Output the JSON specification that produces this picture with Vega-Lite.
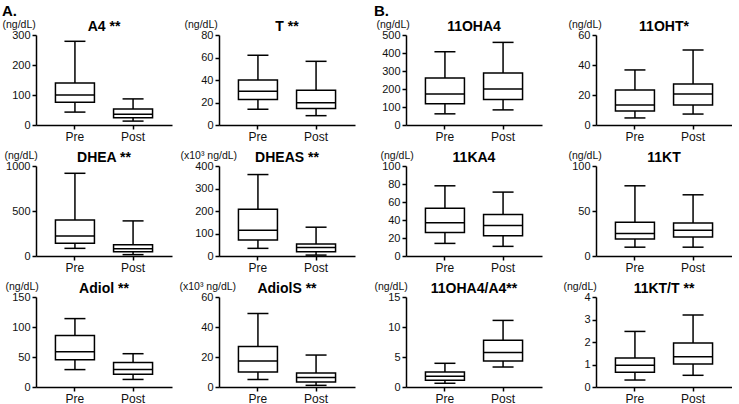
{
"$schema":"https://vega.github.io/schema/vega-lite/v6.json",
"background":"white",
"padding":{"left":2,"top":4,"right":0,"bottom":0},
"data":{"values":[
{"panel":"A4","group":"Pre","lower":43,"q1":76,"median":100,"q3":140,"upper":279},
{"panel":"A4","group":"Post","lower":13,"q1":24,"median":36,"q3":53,"upper":87},
{"panel":"T","group":"Pre","lower":14,"q1":22.7,"median":30,"q3":40,"upper":62},
{"panel":"T","group":"Post","lower":8.3,"q1":14.7,"median":19.8,"q3":31,"upper":56.6},
{"panel":"DHEA","group":"Pre","lower":85,"q1":143,"median":221,"q3":401,"upper":919},
{"panel":"DHEA","group":"Post","lower":15,"q1":48,"median":81,"q3":125,"upper":390},
{"panel":"DHEAS","group":"Pre","lower":34,"q1":71,"median":115,"q3":208,"upper":362},
{"panel":"DHEAS","group":"Post","lower":4,"q1":19,"median":38,"q3":53,"upper":128},
{"panel":"Adiol","group":"Pre","lower":29,"q1":45.6,"median":58.6,"q3":86,"upper":114},
{"panel":"Adiol","group":"Post","lower":12.6,"q1":21.4,"median":29,"q3":40.7,"upper":55.5},
{"panel":"AdiolS","group":"Pre","lower":5,"q1":10,"median":17.4,"q3":27,"upper":49},
{"panel":"AdiolS","group":"Post","lower":1.1,"q1":3.4,"median":6.3,"q3":9.4,"upper":21.3},
{"panel":"11OHA4","group":"Pre","lower":62,"q1":118,"median":172,"q3":261,"upper":407},
{"panel":"11OHA4","group":"Post","lower":84,"q1":142,"median":200,"q3":289,"upper":459},
{"panel":"11OHT","group":"Pre","lower":4.7,"q1":9.3,"median":13.3,"q3":23.3,"upper":36.7},
{"panel":"11OHT","group":"Post","lower":7.3,"q1":13.3,"median":20.7,"q3":27.3,"upper":50},
{"panel":"11KA4","group":"Pre","lower":14,"q1":26,"median":37,"q3":53,"upper":78},
{"panel":"11KA4","group":"Post","lower":10.7,"q1":22.4,"median":34,"q3":46,"upper":71},
{"panel":"11KT","group":"Pre","lower":9.8,"q1":18.8,"median":25,"q3":37.6,"upper":78},
{"panel":"11KT","group":"Post","lower":9.8,"q1":21,"median":28.6,"q3":36.8,"upper":68},
{"panel":"11OHA4/A4","group":"Pre","lower":0.62,"q1":1.13,"median":1.8,"q3":2.5,"upper":3.95},
{"panel":"11OHA4/A4","group":"Post","lower":3.33,"q1":4.35,"median":5.75,"q3":7.8,"upper":11.1},
{"panel":"11KT/T","group":"Pre","lower":0.31,"q1":0.66,"median":0.97,"q3":1.29,"upper":2.47},
{"panel":"11KT/T","group":"Post","lower":0.52,"q1":1.02,"median":1.35,"q3":1.96,"upper":3.2}
]},
"spacing":19,
"hconcat":[
{"title":{"text":"A.","anchor":"start","fontSize":15,"fontWeight":"bold","offset":0,"frame":"bounds"},
 "columns":2,"bounds":"flush","spacing":{"row":41,"column":47},
 "concat":[
  {"width":136,"height":90,"title":"A4 **","transform":[{"filter":"datum.panel === 'A4'"}],
   "encoding":{"x":{"field":"group","type":"nominal","sort":["Pre","Post"],"scale":{"paddingInner":0,"paddingOuter":0.17},"axis":{"title":null}}},
   "layer":[
    {"mark":{"type":"rule","color":"black","strokeWidth":1.5},"encoding":{"y":{"field":"lower","type":"quantitative","scale":{"domain":[0,300],"nice":false},"axis":{"values":[0,100,200,300],"title":"(ng/dL)","titleX":-34}},"y2":{"field":"upper"}}},
    {"mark":{"type":"bar","fill":"white","stroke":"black","strokeWidth":1.5,"size":39,"opacity":1},"encoding":{"y":{"field":"q1","type":"quantitative"},"y2":{"field":"q3"}}},
    {"mark":{"type":"tick","color":"black","thickness":1.5,"size":39,"opacity":1},"encoding":{"y":{"field":"median","type":"quantitative"}}},
    {"mark":{"type":"tick","color":"black","thickness":1.5,"size":21,"opacity":1},"encoding":{"y":{"field":"lower","type":"quantitative"}}},
    {"mark":{"type":"tick","color":"black","thickness":1.5,"size":21,"opacity":1},"encoding":{"y":{"field":"upper","type":"quantitative"}}}
   ]},
  {"width":136,"height":90,"title":"T **","transform":[{"filter":"datum.panel === 'T'"}],
   "encoding":{"x":{"field":"group","type":"nominal","sort":["Pre","Post"],"scale":{"paddingInner":0,"paddingOuter":0.17},"axis":{"title":null}}},
   "layer":[
    {"mark":{"type":"rule","color":"black","strokeWidth":1.5},"encoding":{"y":{"field":"lower","type":"quantitative","scale":{"domain":[0,80],"nice":false},"axis":{"values":[0,20,40,60,80],"title":"(ng/dL)","titleX":-35}},"y2":{"field":"upper"}}},
    {"mark":{"type":"bar","fill":"white","stroke":"black","strokeWidth":1.5,"size":39,"opacity":1},"encoding":{"y":{"field":"q1","type":"quantitative"},"y2":{"field":"q3"}}},
    {"mark":{"type":"tick","color":"black","thickness":1.5,"size":39,"opacity":1},"encoding":{"y":{"field":"median","type":"quantitative"}}},
    {"mark":{"type":"tick","color":"black","thickness":1.5,"size":21,"opacity":1},"encoding":{"y":{"field":"lower","type":"quantitative"}}},
    {"mark":{"type":"tick","color":"black","thickness":1.5,"size":21,"opacity":1},"encoding":{"y":{"field":"upper","type":"quantitative"}}}
   ]},
  {"width":136,"height":90,"title":"DHEA **","transform":[{"filter":"datum.panel === 'DHEA'"}],
   "encoding":{"x":{"field":"group","type":"nominal","sort":["Pre","Post"],"scale":{"paddingInner":0,"paddingOuter":0.17},"axis":{"title":null}}},
   "layer":[
    {"mark":{"type":"rule","color":"black","strokeWidth":1.5},"encoding":{"y":{"field":"lower","type":"quantitative","scale":{"domain":[0,1000],"nice":false},"axis":{"values":[0,500,1000],"title":"(ng/dL)","titleX":-32}},"y2":{"field":"upper"}}},
    {"mark":{"type":"bar","fill":"white","stroke":"black","strokeWidth":1.5,"size":39,"opacity":1},"encoding":{"y":{"field":"q1","type":"quantitative"},"y2":{"field":"q3"}}},
    {"mark":{"type":"tick","color":"black","thickness":1.5,"size":39,"opacity":1},"encoding":{"y":{"field":"median","type":"quantitative"}}},
    {"mark":{"type":"tick","color":"black","thickness":1.5,"size":21,"opacity":1},"encoding":{"y":{"field":"lower","type":"quantitative"}}},
    {"mark":{"type":"tick","color":"black","thickness":1.5,"size":21,"opacity":1},"encoding":{"y":{"field":"upper","type":"quantitative"}}}
   ]},
  {"width":136,"height":90,"title":"DHEAS **","transform":[{"filter":"datum.panel === 'DHEAS'"}],
   "encoding":{"x":{"field":"group","type":"nominal","sort":["Pre","Post"],"scale":{"paddingInner":0,"paddingOuter":0.17},"axis":{"title":null}}},
   "layer":[
    {"mark":{"type":"rule","color":"black","strokeWidth":1.5},"encoding":{"y":{"field":"lower","type":"quantitative","scale":{"domain":[0,400],"nice":false},"axis":{"values":[0,100,200,300,400],"title":"(x10³ ng/dL)","titleX":-39}},"y2":{"field":"upper"}}},
    {"mark":{"type":"bar","fill":"white","stroke":"black","strokeWidth":1.5,"size":39,"opacity":1},"encoding":{"y":{"field":"q1","type":"quantitative"},"y2":{"field":"q3"}}},
    {"mark":{"type":"tick","color":"black","thickness":1.5,"size":39,"opacity":1},"encoding":{"y":{"field":"median","type":"quantitative"}}},
    {"mark":{"type":"tick","color":"black","thickness":1.5,"size":21,"opacity":1},"encoding":{"y":{"field":"lower","type":"quantitative"}}},
    {"mark":{"type":"tick","color":"black","thickness":1.5,"size":21,"opacity":1},"encoding":{"y":{"field":"upper","type":"quantitative"}}}
   ]},
  {"width":136,"height":90,"title":"Adiol **","transform":[{"filter":"datum.panel === 'Adiol'"}],
   "encoding":{"x":{"field":"group","type":"nominal","sort":["Pre","Post"],"scale":{"paddingInner":0,"paddingOuter":0.17},"axis":{"title":null}}},
   "layer":[
    {"mark":{"type":"rule","color":"black","strokeWidth":1.5},"encoding":{"y":{"field":"lower","type":"quantitative","scale":{"domain":[0,150],"nice":false},"axis":{"values":[0,50,100,150],"title":"(ng/dL)","titleX":-31}},"y2":{"field":"upper"}}},
    {"mark":{"type":"bar","fill":"white","stroke":"black","strokeWidth":1.5,"size":39,"opacity":1},"encoding":{"y":{"field":"q1","type":"quantitative"},"y2":{"field":"q3"}}},
    {"mark":{"type":"tick","color":"black","thickness":1.5,"size":39,"opacity":1},"encoding":{"y":{"field":"median","type":"quantitative"}}},
    {"mark":{"type":"tick","color":"black","thickness":1.5,"size":21,"opacity":1},"encoding":{"y":{"field":"lower","type":"quantitative"}}},
    {"mark":{"type":"tick","color":"black","thickness":1.5,"size":21,"opacity":1},"encoding":{"y":{"field":"upper","type":"quantitative"}}}
   ]},
  {"width":136,"height":90,"title":"AdiolS **","transform":[{"filter":"datum.panel === 'AdiolS'"}],
   "encoding":{"x":{"field":"group","type":"nominal","sort":["Pre","Post"],"scale":{"paddingInner":0,"paddingOuter":0.17},"axis":{"title":null}}},
   "layer":[
    {"mark":{"type":"rule","color":"black","strokeWidth":1.5},"encoding":{"y":{"field":"lower","type":"quantitative","scale":{"domain":[0,60],"nice":false},"axis":{"values":[0,20,40,60],"title":"(x10³ ng/dL)","titleX":-40}},"y2":{"field":"upper"}}},
    {"mark":{"type":"bar","fill":"white","stroke":"black","strokeWidth":1.5,"size":39,"opacity":1},"encoding":{"y":{"field":"q1","type":"quantitative"},"y2":{"field":"q3"}}},
    {"mark":{"type":"tick","color":"black","thickness":1.5,"size":39,"opacity":1},"encoding":{"y":{"field":"median","type":"quantitative"}}},
    {"mark":{"type":"tick","color":"black","thickness":1.5,"size":21,"opacity":1},"encoding":{"y":{"field":"lower","type":"quantitative"}}},
    {"mark":{"type":"tick","color":"black","thickness":1.5,"size":21,"opacity":1},"encoding":{"y":{"field":"upper","type":"quantitative"}}}
   ]}
 ]},
{"title":{"text":"B.","anchor":"start","fontSize":15,"fontWeight":"bold","offset":0,"frame":"bounds"},
 "columns":2,"bounds":"flush","spacing":{"row":41,"column":54},
 "concat":[
  {"width":136,"height":90,"title":"11OHA4","transform":[{"filter":"datum.panel === '11OHA4'"}],
   "encoding":{"x":{"field":"group","type":"nominal","sort":["Pre","Post"],"scale":{"paddingInner":0,"paddingOuter":0.17},"axis":{"title":null}}},
   "layer":[
    {"mark":{"type":"rule","color":"black","strokeWidth":1.5},"encoding":{"y":{"field":"lower","type":"quantitative","scale":{"domain":[0,500],"nice":false},"axis":{"values":[0,100,200,300,400,500],"title":"(ng/dL)","titleX":-30}},"y2":{"field":"upper"}}},
    {"mark":{"type":"bar","fill":"white","stroke":"black","strokeWidth":1.5,"size":39,"opacity":1},"encoding":{"y":{"field":"q1","type":"quantitative"},"y2":{"field":"q3"}}},
    {"mark":{"type":"tick","color":"black","thickness":1.5,"size":39,"opacity":1},"encoding":{"y":{"field":"median","type":"quantitative"}}},
    {"mark":{"type":"tick","color":"black","thickness":1.5,"size":21,"opacity":1},"encoding":{"y":{"field":"lower","type":"quantitative"}}},
    {"mark":{"type":"tick","color":"black","thickness":1.5,"size":21,"opacity":1},"encoding":{"y":{"field":"upper","type":"quantitative"}}}
   ]},
  {"width":136,"height":90,"title":"11OHT*","transform":[{"filter":"datum.panel === '11OHT'"}],
   "encoding":{"x":{"field":"group","type":"nominal","sort":["Pre","Post"],"scale":{"paddingInner":0,"paddingOuter":0.17},"axis":{"title":null}}},
   "layer":[
    {"mark":{"type":"rule","color":"black","strokeWidth":1.5},"encoding":{"y":{"field":"lower","type":"quantitative","scale":{"domain":[0,60],"nice":false},"axis":{"values":[0,20,40,60],"title":"(ng/dL)","titleX":-28}},"y2":{"field":"upper"}}},
    {"mark":{"type":"bar","fill":"white","stroke":"black","strokeWidth":1.5,"size":39,"opacity":1},"encoding":{"y":{"field":"q1","type":"quantitative"},"y2":{"field":"q3"}}},
    {"mark":{"type":"tick","color":"black","thickness":1.5,"size":39,"opacity":1},"encoding":{"y":{"field":"median","type":"quantitative"}}},
    {"mark":{"type":"tick","color":"black","thickness":1.5,"size":21,"opacity":1},"encoding":{"y":{"field":"lower","type":"quantitative"}}},
    {"mark":{"type":"tick","color":"black","thickness":1.5,"size":21,"opacity":1},"encoding":{"y":{"field":"upper","type":"quantitative"}}}
   ]},
  {"width":136,"height":90,"title":"11KA4","transform":[{"filter":"datum.panel === '11KA4'"}],
   "encoding":{"x":{"field":"group","type":"nominal","sort":["Pre","Post"],"scale":{"paddingInner":0,"paddingOuter":0.17},"axis":{"title":null}}},
   "layer":[
    {"mark":{"type":"rule","color":"black","strokeWidth":1.5},"encoding":{"y":{"field":"lower","type":"quantitative","scale":{"domain":[0,100],"nice":false},"axis":{"values":[0,20,40,60,80,100],"title":"(ng/dL)","titleX":-26}},"y2":{"field":"upper"}}},
    {"mark":{"type":"bar","fill":"white","stroke":"black","strokeWidth":1.5,"size":39,"opacity":1},"encoding":{"y":{"field":"q1","type":"quantitative"},"y2":{"field":"q3"}}},
    {"mark":{"type":"tick","color":"black","thickness":1.5,"size":39,"opacity":1},"encoding":{"y":{"field":"median","type":"quantitative"}}},
    {"mark":{"type":"tick","color":"black","thickness":1.5,"size":21,"opacity":1},"encoding":{"y":{"field":"lower","type":"quantitative"}}},
    {"mark":{"type":"tick","color":"black","thickness":1.5,"size":21,"opacity":1},"encoding":{"y":{"field":"upper","type":"quantitative"}}}
   ]},
  {"width":136,"height":90,"title":"11KT","transform":[{"filter":"datum.panel === '11KT'"}],
   "encoding":{"x":{"field":"group","type":"nominal","sort":["Pre","Post"],"scale":{"paddingInner":0,"paddingOuter":0.17},"axis":{"title":null}}},
   "layer":[
    {"mark":{"type":"rule","color":"black","strokeWidth":1.5},"encoding":{"y":{"field":"lower","type":"quantitative","scale":{"domain":[0,100],"nice":false},"axis":{"values":[0,50,100],"title":"(ng/dL)","titleX":-28}},"y2":{"field":"upper"}}},
    {"mark":{"type":"bar","fill":"white","stroke":"black","strokeWidth":1.5,"size":39,"opacity":1},"encoding":{"y":{"field":"q1","type":"quantitative"},"y2":{"field":"q3"}}},
    {"mark":{"type":"tick","color":"black","thickness":1.5,"size":39,"opacity":1},"encoding":{"y":{"field":"median","type":"quantitative"}}},
    {"mark":{"type":"tick","color":"black","thickness":1.5,"size":21,"opacity":1},"encoding":{"y":{"field":"lower","type":"quantitative"}}},
    {"mark":{"type":"tick","color":"black","thickness":1.5,"size":21,"opacity":1},"encoding":{"y":{"field":"upper","type":"quantitative"}}}
   ]},
  {"width":136,"height":90,"title":"11OHA4/A4**","transform":[{"filter":"datum.panel === '11OHA4/A4'"}],
   "encoding":{"x":{"field":"group","type":"nominal","sort":["Pre","Post"],"scale":{"paddingInner":0,"paddingOuter":0.17},"axis":{"title":null}}},
   "layer":[
    {"mark":{"type":"rule","color":"black","strokeWidth":1.5},"encoding":{"y":{"field":"lower","type":"quantitative","scale":{"domain":[0,15],"nice":false},"axis":{"values":[0,5,10,15],"title":"(ng/dL)","titleX":-32}},"y2":{"field":"upper"}}},
    {"mark":{"type":"bar","fill":"white","stroke":"black","strokeWidth":1.5,"size":39,"opacity":1},"encoding":{"y":{"field":"q1","type":"quantitative"},"y2":{"field":"q3"}}},
    {"mark":{"type":"tick","color":"black","thickness":1.5,"size":39,"opacity":1},"encoding":{"y":{"field":"median","type":"quantitative"}}},
    {"mark":{"type":"tick","color":"black","thickness":1.5,"size":21,"opacity":1},"encoding":{"y":{"field":"lower","type":"quantitative"}}},
    {"mark":{"type":"tick","color":"black","thickness":1.5,"size":21,"opacity":1},"encoding":{"y":{"field":"upper","type":"quantitative"}}}
   ]},
  {"width":136,"height":90,"title":"11KT/T **","transform":[{"filter":"datum.panel === '11KT/T'"}],
   "encoding":{"x":{"field":"group","type":"nominal","sort":["Pre","Post"],"scale":{"paddingInner":0,"paddingOuter":0.17},"axis":{"title":null}}},
   "layer":[
    {"mark":{"type":"rule","color":"black","strokeWidth":1.5},"encoding":{"y":{"field":"lower","type":"quantitative","scale":{"domain":[0,4],"nice":false},"axis":{"values":[0,1,2,3,4],"title":"(ng/dL)","titleX":-33}},"y2":{"field":"upper"}}},
    {"mark":{"type":"bar","fill":"white","stroke":"black","strokeWidth":1.5,"size":39,"opacity":1},"encoding":{"y":{"field":"q1","type":"quantitative"},"y2":{"field":"q3"}}},
    {"mark":{"type":"tick","color":"black","thickness":1.5,"size":39,"opacity":1},"encoding":{"y":{"field":"median","type":"quantitative"}}},
    {"mark":{"type":"tick","color":"black","thickness":1.5,"size":21,"opacity":1},"encoding":{"y":{"field":"lower","type":"quantitative"}}},
    {"mark":{"type":"tick","color":"black","thickness":1.5,"size":21,"opacity":1},"encoding":{"y":{"field":"upper","type":"quantitative"}}}
   ]}
 ]}
],
"config":{
 "view":{"stroke":null},
 "font":"Liberation Sans",
 "axis":{"domainColor":"black","domainWidth":1.5,"tickColor":"black","tickWidth":1.5,"tickSize":4,"labelColor":"#111","grid":false,"labelFont":"Liberation Sans","titleFont":"Liberation Sans","titleColor":"#111"},
 "axisY":{"tickCount":12,"labelFontSize":11,"labelPadding":2,"labelOverlap":false,"labelFlush":false,"labelBound":false,"format":"d","titleAngle":0,"titleAlign":"left","titleBaseline":"alphabetic","titleY":-8,"titleFontWeight":"normal","titleFontSize":10.5},
 "axisX":{"labelFontSize":12,"labelAngle":0,"labelPadding":2},
 "title":{"fontSize":14,"fontWeight":"bold","color":"black","offset":-15,"font":"Liberation Sans"}
}
}
